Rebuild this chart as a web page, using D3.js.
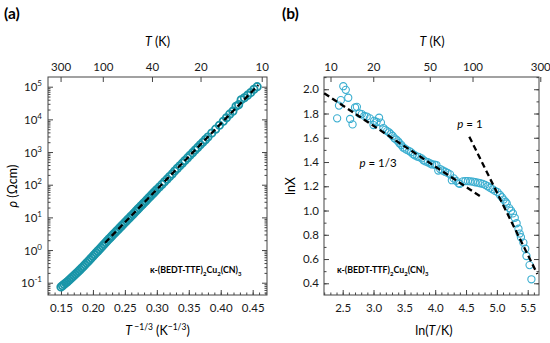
<!DOCTYPE html>
<html><head><meta charset="utf-8">
<script src="https://cdn.jsdelivr.net/npm/d3@7"></script>
<style>body{margin:0;background:#fff}svg{font-family:Lato,'Open Sans',sans-serif}</style>
</head><body><svg id="c" width="550" height="343"></svg>
<script>
// ---------- Panel (a) data: x = T^(-1/3), log10(rho / Ohm cm) ----------
const aX = [0.1500,0.1525,0.1550,0.1575,0.1600,0.1625,0.1650,0.1675,0.1700,0.1725,0.1750,0.1775,0.1800,0.1825,0.1850,0.1875,0.1900,0.1925,0.1950,0.1975,0.2000,0.2025,0.2050,0.2075,0.2100,0.2125,0.2150,0.2175,0.2200,0.2225,0.2250,0.2275,0.2300,0.2325,0.2350,0.2375,0.2400,0.2425,0.2450,0.2475,0.2500,0.2525,0.2550,0.2575,0.2600,0.2625,0.2650,0.2675,0.2700,0.2725,0.2750,0.2775,0.2800,0.2825,0.2850,0.2875,0.2900,0.2925,0.2950,0.2975,0.3000,
  0.304,0.308,0.312,0.316,0.320,0.324,0.328,0.332,0.336,0.340,0.344,0.348,0.352,0.356,0.360,0.364,0.368,0.372,0.376,0.380,
  0.386,0.392,0.398,0.404,0.409,0.414,0.419,0.424,0.428,0.432,0.437,0.442,0.447,0.452,0.457];
const aLogRho = [-1.13,-1.09,-1.05,-1.01,-0.97,-0.925,-0.88,-0.835,-0.79,-0.743,-0.695,-0.648,-0.60,-0.55,-0.50,-0.45,-0.40,-0.348,-0.295,-0.243,-0.19,-0.138,-0.085,-0.033,0.02,0.072,0.125,0.177,0.23,0.282,0.335,0.387,0.44,0.49,0.54,0.59,0.64,0.69,0.74,0.79,0.84,0.89,0.94,0.99,1.04,1.09,1.14,1.195,1.245,1.295,1.345,1.395,1.445,1.495,1.545,1.60,1.65,1.70,1.75,1.80,1.85,
  1.93,2.01,2.09,2.17,2.25,2.33,2.42,2.50,2.58,2.66,2.74,2.82,2.90,2.98,3.06,3.14,3.22,3.30,3.38,3.46,
  3.58,3.70,3.82,3.94,4.05,4.16,4.25,4.40,4.45,4.60,4.66,4.74,4.82,4.92,5.00];
const aFitX = [0.219, 0.4588];
const aFitLogRho = [0.224, 5.05];
const aXTicks = [0.15,0.20,0.25,0.30,0.35,0.40,0.45];
const aYTicks = [-1,0,1,2,3,4,5];
const aTopT = [300,100,40,20,10];

// ---------- Panel (b) data: ln(T/K), lnX ----------
const bLnT = [2.41,2.44,2.47,2.51,2.55,2.59,2.62,2.66,2.70,2.73,2.77,2.81,2.85,2.89,2.94,3.00,3.01,3.05,3.09,3.12,3.16,3.19,3.22,3.25,3.28,3.31,3.34,3.37,3.40,3.42,3.45,3.48,3.51,3.54,3.58,3.61,3.64,3.67,3.71,3.74,3.78,3.81,3.84,3.88,3.92,3.95,3.99,4.02,4.05,4.08,4.12,4.16,4.20,4.24,4.27,4.30,4.34,4.38,4.40,4.45,4.49,4.53,4.57,4.61,4.65,4.69,4.73,4.77,4.81,4.85,4.89,4.93,4.97,5.01,5.05,5.08,5.11,5.14,5.16,5.20,5.23,5.26,5.29,5.32,5.35,5.37,5.39,5.43,5.46,5.48,5.53,5.56];
const bLnX = [1.76,1.865,1.91,2.025,1.995,1.93,1.755,1.71,1.85,1.855,1.80,1.795,1.78,1.775,1.76,1.705,1.74,1.73,1.765,1.725,1.68,1.665,1.655,1.645,1.63,1.615,1.595,1.585,1.57,1.555,1.54,1.52,1.51,1.50,1.49,1.48,1.465,1.455,1.445,1.44,1.43,1.415,1.405,1.398,1.388,1.38,1.378,1.375,1.33,1.342,1.33,1.32,1.31,1.298,1.25,1.265,1.245,1.224,1.22,1.24,1.243,1.243,1.24,1.238,1.233,1.23,1.225,1.22,1.212,1.20,1.188,1.175,1.162,1.152,1.128,1.11,1.09,1.072,1.058,1.02,0.998,0.976,0.94,0.895,0.85,0.81,0.78,0.735,0.685,0.625,0.55,0.433];
const bFit13X = [2.2, 4.764];
const bFit13Y = [1.967, 1.106];
const bFit1X = [4.553, 5.656];
const bFit1Y = [1.609, 0.476];
const bXTicks = [2.5,3.0,3.5,4.0,4.5,5.0,5.5];
const bYTicks = [0.4,0.6,0.8,1.0,1.2,1.4,1.6,1.8,2.0];
const bTopT = [10,20,50,100,300];

const svg = d3.select("#c");
const FRAME = "#444", TEAL_A = "#1a95a8", CYAN_B = "#3aaed0";
const TICKFS = 11.5, TITLEFS = 12.5;

function boxAxes(x0, x1, y0, y1) {
  svg.append("rect").attr("x", x0).attr("y", y0).attr("width", x1 - x0).attr("height", y1 - y0)
    .attr("fill", "none").attr("stroke", FRAME).attr("stroke-width", 1);
}
function styleAxis(sel) {
  sel.select(".domain").remove();
  sel.selectAll(".tick line").attr("stroke", FRAME);
  sel.selectAll(".tick text").attr("fill", "#1a1a1a").attr("font-size", TICKFS);
  sel.attr("font-family", null);
}

// ================= Panel (a) =================
const xa = d3.scaleLinear().domain([0.1297, 0.4724]).range([48, 267]);
const ya = d3.scaleLinear().domain([-1.376, 5.297]).range([295, 77]);
const aMinorX = d3.range(13, 48).map(v => v / 100).filter(v => v >= 0.1297 && v <= 0.4724);
const aMinorY = [];
for (let n = -2; n <= 5; n++) for (let k = 2; k <= 9; k++) { const v = n + Math.log10(k); if (v > -1.376 && v < 5.297) aMinorY.push(v); }

boxAxes(48, 267, 77, 295);
svg.append("g").attr("transform", "translate(0,295)")
  .call(d3.axisBottom(xa).tickValues(aMinorX).tickSize(-2.5).tickFormat("")).call(styleAxis);
svg.append("g").attr("transform", "translate(0,295)")
  .call(d3.axisBottom(xa).tickValues(aXTicks).tickSize(-5).tickPadding(9).tickFormat(d3.format(".2f"))).call(styleAxis);
svg.append("g").attr("transform", "translate(0,77)")
  .call(d3.axisTop(xa).tickValues(aTopT.map(t => Math.pow(t, -1 / 3))).tickSize(-5).tickPadding(6)
    .tickFormat((d, i) => aTopT[i])).call(styleAxis);
[48, 267].forEach((px, i) => {
  const mk = i === 0 ? d3.axisLeft : d3.axisRight;
  svg.append("g").attr("transform", `translate(${px},0)`)
    .call(mk(ya).tickValues(aMinorY).tickSize(-2.5).tickFormat("")).call(styleAxis);
  const ga = svg.append("g").attr("transform", `translate(${px},0)`)
    .call(mk(ya).tickValues(aYTicks).tickSize(-5).tickFormat("")).call(styleAxis);
  if (i === 0) {
    ga.selectAll(".tick").append("text").attr("x", -6).attr("y", 4).attr("text-anchor", "end")
      .attr("font-size", TICKFS).attr("fill", "#1a1a1a")
      .each(function (d) {
        const t = d3.select(this);
        t.append("tspan").text("10");
        t.append("tspan").attr("dy", -5).attr("font-size", 8).text(d);
      });
  }
});

// data (a)
const aPts = aX.map((x, i) => [x, aLogRho[i]]);
svg.append("g").selectAll("circle").data(aPts).join("circle")
  .attr("cx", d => xa(d[0])).attr("cy", d => ya(d[1])).attr("r", 3.7)
  .attr("fill", "none").attr("stroke", TEAL_A).attr("stroke-width", 1.8);
svg.append("path").datum(aFitX.map((x, i) => [x, aFitLogRho[i]]))
  .attr("d", d3.line().x(d => xa(d[0])).y(d => ya(d[1])))
  .attr("stroke", "#000").attr("stroke-width", 2.3).attr("stroke-dasharray", "6,3.5").attr("fill", "none");

// labels (a)
svg.append("text").attr("x", 4).attr("y", 19).attr("font-size", 15.5).attr("font-weight", "bold").text("(a)");
const aTop = svg.append("text").attr("x", 157.5).attr("y", 46).attr("text-anchor", "middle").attr("font-size", TITLEFS);
aTop.append("tspan").attr("font-style", "italic").text("T");
aTop.append("tspan").text(" (K)");
const aBot = svg.append("text").attr("x", 157.5).attr("y", 335).attr("text-anchor", "middle").attr("font-size", TITLEFS);
aBot.append("tspan").attr("font-style", "italic").text("T");
aBot.append("tspan").attr("dy", -5).attr("font-size", 8.5).text(" \u22121/3");
aBot.append("tspan").attr("dy", 5).text(" (K");
aBot.append("tspan").attr("dy", -5).attr("font-size", 8.5).text("\u22121/3");
aBot.append("tspan").attr("dy", 5).text(")");
const aLeft = svg.append("text").attr("transform", "translate(17,186) rotate(-90)").attr("text-anchor", "middle").attr("font-size", TITLEFS);
aLeft.append("tspan").attr("font-style", "italic").text("\u03C1");
aLeft.append("tspan").text(" (\u03A9cm)");

function compound(x, y) {
  const t = svg.append("text").attr("x", x).attr("y", y).attr("font-size", 8.8).attr("font-weight", "bold");
  t.append("tspan").text("\u03BA-(BEDT-TTF)");
  t.append("tspan").attr("dy", 2.5).attr("font-size", 6).text("2");
  t.append("tspan").attr("dy", -2.5).text("Cu");
  t.append("tspan").attr("dy", 2.5).attr("font-size", 6).text("2");
  t.append("tspan").attr("dy", -2.5).text("(CN)");
  t.append("tspan").attr("dy", 2.5).attr("font-size", 6).text("3");
}
compound(150, 273);

// ================= Panel (b) =================
const xb = d3.scaleLinear().domain([2.197, 5.683]).range([324, 539]);
const yb = d3.scaleLinear().domain([0.3035, 2.101]).range([295, 77]);
const bMinorX = d3.range(22, 57).map(v => v / 10);
const bMinorY = d3.range(4, 22).map(v => v / 10);

boxAxes(324, 539, 77, 295);
svg.append("g").attr("transform", "translate(0,295)")
  .call(d3.axisBottom(xb).tickValues(bMinorX).tickSize(-2.5).tickFormat("")).call(styleAxis);
svg.append("g").attr("transform", "translate(0,295)")
  .call(d3.axisBottom(xb).tickValues(bXTicks).tickSize(-5).tickPadding(9).tickFormat(d3.format(".1f"))).call(styleAxis);
svg.append("g").attr("transform", "translate(0,77)")
  .call(d3.axisTop(xb).tickValues(bTopT.map(t => Math.log(t))).tickSize(-5).tickPadding(6)
    .tickFormat((d, i) => bTopT[i])).call(styleAxis);
[324, 539].forEach((px, i) => {
  const mk = i === 0 ? d3.axisLeft : d3.axisRight;
  svg.append("g").attr("transform", `translate(${px},0)`)
    .call(mk(yb).tickValues(bMinorY).tickSize(-2.5).tickFormat("")).call(styleAxis);
  svg.append("g").attr("transform", `translate(${px},0)`)
    .call(mk(yb).tickValues(bYTicks).tickSize(-5).tickPadding(5)
      .tickFormat(i === 0 ? d3.format(".1f") : "")).call(styleAxis);
});

svg.append("g").selectAll("circle").data(bLnT.map((x, i) => [x, bLnX[i]])).join("circle")
  .attr("cx", d => xb(d[0])).attr("cy", d => yb(d[1])).attr("r", 3.6)
  .attr("fill", "none").attr("stroke", CYAN_B).attr("stroke-width", 1.1);
[[bFit13X, bFit13Y], [bFit1X, bFit1Y]].forEach(([xs, ys]) => {
  svg.append("path").datum(xs.map((x, i) => [x, ys[i]]))
    .attr("d", d3.line().x(d => xb(d[0])).y(d => yb(d[1])))
    .attr("stroke", "#000").attr("stroke-width", 2.3).attr("stroke-dasharray", "6,3.5").attr("fill", "none");
});

svg.append("text").attr("x", 282).attr("y", 19).attr("font-size", 15.5).attr("font-weight", "bold").text("(b)");
const bTop = svg.append("text").attr("x", 432).attr("y", 46).attr("text-anchor", "middle").attr("font-size", TITLEFS);
bTop.append("tspan").attr("font-style", "italic").text("T");
bTop.append("tspan").text(" (K)");
const bBot = svg.append("text").attr("x", 434).attr("y", 335).attr("text-anchor", "middle").attr("font-size", TITLEFS);
bBot.append("tspan").text("ln(");
bBot.append("tspan").attr("font-style", "italic").text("T");
bBot.append("tspan").text("/K)");
svg.append("text").attr("transform", "translate(295,186) rotate(-90)").attr("text-anchor", "middle")
  .attr("font-size", TITLEFS).text("lnX");
function pLabel(x, y, rest) {
  const t = svg.append("text").attr("x", x).attr("y", y).attr("text-anchor", "middle").attr("font-size", 11.5);
  t.append("tspan").attr("font-style", "italic").text("p");
  t.append("tspan").text(rest);
}
pLabel(378, 167, " = 1/3");
pLabel(470, 128, " = 1");
compound(337, 273);
</script></body></html>
